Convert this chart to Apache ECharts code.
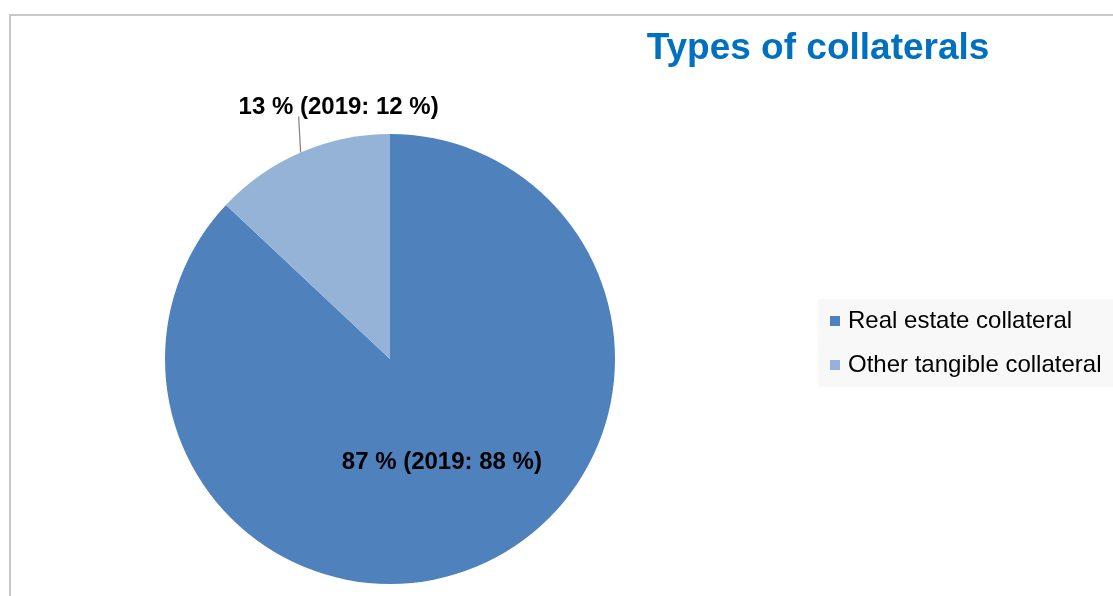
<!DOCTYPE html>
<html>
<head>
<meta charset="utf-8">
<script src="https://cdn.jsdelivr.net/npm/echarts@6/dist/echarts.min.js"></script>
<style>
    html, body { margin: 0; padding: 0; background: #fff; }
    #collChart { width: 1113px; height: 596px; }
</style>
</head>
<body>
<div id="collChart"></div>
<script>
// data
const categories = ['Real estate collateral', 'Other tangible collateral'];
const shares2020 = [87, 13];
const shares2019 = [88, 12];
const sliceColors = ['#4f81bd', '#95b3d7'];

let myChart = echarts.init(document.getElementById('collChart'));

let pieData = categories.map((name, i) => ({
    name: name,
    value: shares2020[i],
    itemStyle: { color: sliceColors[i] },
    label: i === 0 ? { position: 'inside' } : { position: 'outside' }
}));

myChart.setOption({
    animation: false,
    title: {
        text: 'Types of collaterals',
        left: 813,
        top: 25,
        textAlign: 'center',
        textStyle: {
            color: '#0070c0',
            fontFamily: 'Liberation Sans, Arial',
            fontWeight: 'bold',
            fontSize: 37
        }
    },
    legend: {
        orient: 'vertical',
        left: 818,
        top: 299,
        backgroundColor: '#f8f8f8',
        padding: [10, 14, 10, 12],
        itemGap: 20,
        itemWidth: 10,
        itemHeight: 10,
        icon: 'rect',
        data: categories,
        textStyle: {
            color: '#000',
            fontFamily: 'Liberation Sans, Arial',
            fontSize: 24,
            lineHeight: 23,
            padding: [0, 0, 0, 3]
        }
    },
    graphic: [{
        type: 'rect',
        silent: true,
        shape: { x: 10, y: 15, width: 1300, height: 800 },
        style: { fill: 'none', stroke: '#c8c8c8', lineWidth: 2 }
    }],
    series: [{
        type: 'pie',
        center: [390, 359],
        radius: 225,
        startAngle: 90,
        clockwise: true,
        label: {
            formatter: p => p.value + ' % (2019: ' + shares2019[p.dataIndex] + ' %)',
            color: '#000',
            fontFamily: 'Liberation Sans, Arial',
            fontWeight: 'bold',
            fontSize: 24
        },
        labelLine: {
            show: true,
            length: 30,
            length2: 0,
            lineStyle: { color: '#808080', width: 1.2 }
        },
        labelLayout: function (params) {
            if (params.dataIndex === 0) return { dx: 6, dy: -3 };
            let p = params.labelLinePoints[0];
            return {
                x: p[0] + 38,
                y: p[1] - 45,
                align: 'center',
                verticalAlign: 'middle',
                labelLinePoints: [p, [p[0] - 2, p[1] - 36]]
            };
        },
        emphasis: { disabled: true },
        data: pieData
    }]
});
</script>
</body>
</html>
